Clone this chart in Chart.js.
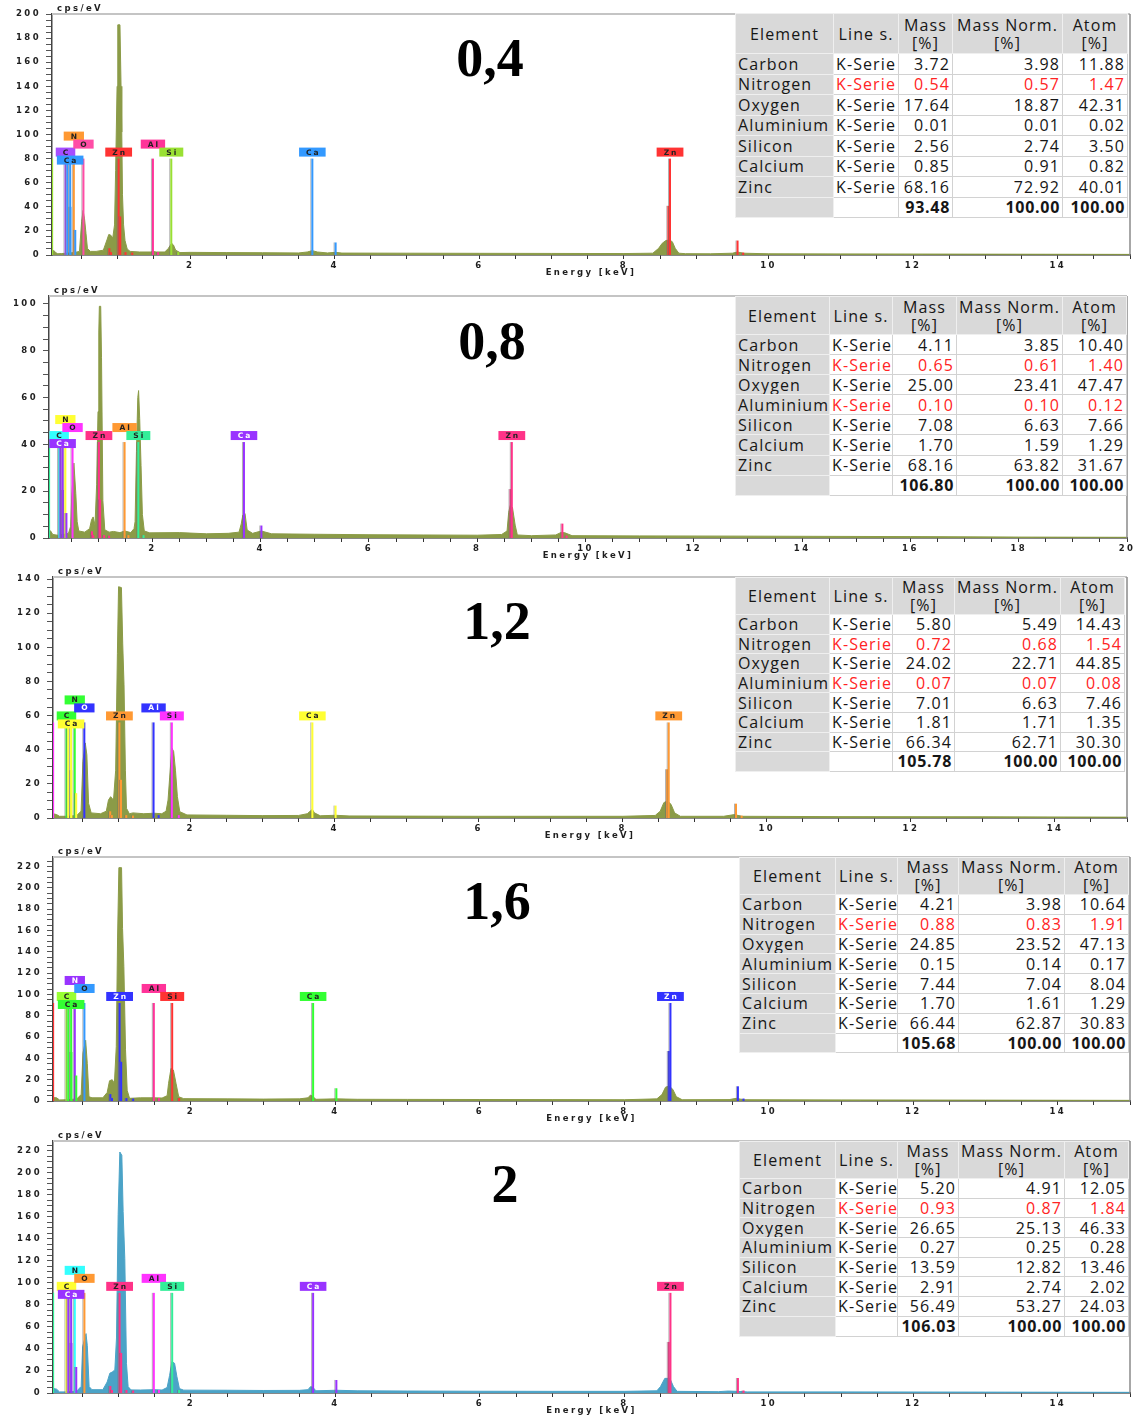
<!DOCTYPE html>
<html>
<head>
<meta charset="utf-8">
<title>EDS spectra</title>
<script src="https://cdn.jsdelivr.net/npm/chart.js@4.4.1/dist/chart.umd.min.js"></script>
<style>
  html, body { margin: 0; padding: 0; background: #fff; }
  #page { position: relative; width: 1136px; height: 1418px; overflow: hidden; background: #fff; }
  canvas.spec { position: absolute; left: 0; }
  .sample {
    position: absolute; font-family: 'Liberation Serif', 'Times New Roman', serif;
    font-weight: bold; font-size: 54px; line-height: 54px; color: #000;
    transform: translateX(-50%); white-space: nowrap;
  }
  table.quant {
    position: absolute; border-collapse: collapse; table-layout: fixed;
    font-family: 'Open Sans', sans-serif; font-size: 16px; letter-spacing: 1.1px;
    color: #161616; background: #fff;
  }
  table.quant th, table.quant td {
    border: 1px solid #d2d2d2; padding: 0 2px; white-space: nowrap; overflow: hidden;
    font-weight: normal; line-height: 16px;
  }
  table.quant th { background: #d9d9d9; text-align: center; line-height: 18px; border-color: #efefef; }
  table.quant td.el { background: #d9d9d9; text-align: left; border-color: #efefef; }
  table.quant td.ln { text-align: left; }
  table.quant td.num { text-align: right; }
  table.quant tr.total td { font-weight: bold; letter-spacing: 0.7px; }
  table.quant .red { color: #ff2424; }
</style>
</head>
<body>
<div id="page"></div>
<script>
// ---------------------------------------------------------------
// Sample labels (one spectrum + quantification table per sample)
// ---------------------------------------------------------------
const sampleLabels = ['0,4', '0,8', '1,2', '1,6', '2'];

// Spectra: [energy keV, intensity cps/eV]
const spectrum04 = [
  [0.09,3.5],[0.12,3.5],[0.14,2],[0.17,1],[0.22,1.2],[0.30,1.5],[0.40,2],[0.47,3],[0.50,28],[0.52,37],
  [0.54,30],[0.56,18],[0.58,5.5],[0.62,3],[0.70,3],[0.80,4],[0.85,12.5],[0.875,17],[0.90,16.6],[0.93,14],
  [0.955,25],[0.97,70],[0.99,140],[1.00,191],[1.03,191],[1.045,140],[1.055,102],[1.065,50],[1.08,25],[1.10,12],
  [1.13,5],[1.17,3],[1.30,2.5],[1.45,2.5],[1.49,3],[1.53,2.5],[1.65,2.5],[1.70,5.5],[1.72,7.5],[1.745,9.7],
  [1.77,8.3],[1.80,4],[1.86,2],[2.0,2.2],[2.5,2],[3.0,1.9],[3.5,1.7],[3.62,2.5],[3.69,3.6],[3.76,2.5],
  [3.9,1.7],[4.01,2.2],[4.1,1.6],[5,1.5],[6,1.4],[7,1.3],[8,1.2],[8.4,1.5],[8.48,5.5],[8.53,9.7],
  [8.58,12],[8.63,12.5],[8.67,11],[8.71,5.5],[8.76,1.5],[8.85,1.1],[9.2,1.0],[9.5,1.5],[9.57,2.5],[9.65,1.5],
  [10,1.0],[11,0.9],[12,0.8],[13,0.7],[14,0.6],[15,0.5]
];
const spectrum08 = [
  [0.09,3.5],[0.12,3],[0.16,1.5],[0.25,1.2],[0.35,1.5],[0.45,2],[0.49,5],[0.51,18],[0.55,32],[0.585,19],
  [0.61,7],[0.64,3],[0.75,2.5],[0.84,4],[0.875,7.7],[0.905,9],[0.94,5.5],[0.97,23],[0.995,54],[1.01,88],
  [1.02,99],[1.045,99],[1.06,77],[1.085,16],[1.12,3.5],[1.2,2.5],[1.28,2.8],[1.4,2.3],[1.49,3],[1.6,2.3],
  [1.66,4],[1.68,7],[1.705,37],[1.73,60],[1.745,63],[1.765,51],[1.79,31],[1.815,10],[1.85,3],[1.95,2.2],
  [2.5,2.3],[3.0,1.8],[3.4,2],[3.6,2.5],[3.64,6],[3.67,9.8],[3.71,10.5],[3.75,3.4],[3.85,2],[4.01,3],
  [4.2,1.8],[5,1.6],[6,1.4],[7,1.3],[8,1.2],[8.45,1.5],[8.55,3],[8.58,11],[8.61,14],[8.65,13],
  [8.7,5.5],[8.74,1.3],[9,1],[9.45,1.3],[9.55,2.4],[9.62,2.2],[9.75,1],[11,0.9],[13,0.8],[16,0.6],
  [18,0.4],[20,0.3]
];
const spectrum12 = [
  [0.09,2.5],[0.14,2],[0.18,1],[0.3,1],[0.42,1.5],[0.48,4],[0.505,33],[0.538,44],[0.56,37],[0.584,8.6],
  [0.62,3],[0.75,2.5],[0.83,4],[0.86,10.5],[0.89,12.5],[0.93,10.5],[0.96,28],[0.984,96.5],[1.0,135.5],[1.04,135],
  [1.058,102],[1.076,78],[1.095,28],[1.11,5.7],[1.15,2.5],[1.2,3],[1.35,2.5],[1.49,2.8],[1.6,2.5],[1.66,4],
  [1.687,10.5],[1.71,24],[1.74,41],[1.765,39],[1.79,28],[1.817,12.5],[1.85,3.7],[1.95,1.8],[2.5,1.6],[3,1.4],
  [3.5,1.5],[3.62,2.5],[3.66,4],[3.69,5],[3.72,3],[3.8,1.3],[4.01,1.6],[4.2,1.2],[5,1.1],[6,1],
  [7,1],[8,1],[8.45,1.5],[8.52,4],[8.57,9],[8.62,10],[8.67,8],[8.72,3],[8.8,1],[9.4,1],
  [9.55,2],[9.65,1],[11,0.8],[13,0.7],[15,0.5]
];
const spectrum16 = [
  [0.09,3.2],[0.14,3],[0.18,1],[0.3,1.2],[0.42,2],[0.48,6],[0.505,45],[0.542,57],[0.565,35],[0.588,4],
  [0.63,3],[0.78,3],[0.84,8],[0.873,19],[0.91,20],[0.94,16.6],[0.966,51],[0.984,153],[1.002,219],[1.039,219],
  [1.053,162],[1.071,126],[1.094,48],[1.117,10],[1.15,2.5],[1.3,3],[1.49,3],[1.6,2.8],[1.67,5],[1.69,16.6],
  [1.724,30.7],[1.757,29],[1.793,16.6],[1.83,4],[1.9,2.2],[2.5,2],[3,1.8],[3.5,2],[3.62,3],[3.655,5.6],
  [3.69,4],[3.73,1.6],[4.01,2],[4.3,1.6],[5,1.5],[6,1.4],[7,1.3],[8,1.2],[8.45,2],[8.52,6],
  [8.57,13],[8.62,14],[8.67,11],[8.72,4],[8.8,1.2],[9.45,1.3],[9.55,2.5],[9.65,1.2],[11,1],[13,0.8],
  [15,0.6]
];
const spectrum20 = [
  [0.09,4.2],[0.14,3.5],[0.18,1],[0.3,1],[0.42,1.8],[0.48,6],[0.5,42],[0.547,54],[0.565,43],[0.59,5.8],
  [0.63,3],[0.78,3],[0.84,10],[0.877,18],[0.909,19],[0.946,21],[0.969,50],[0.992,162],[1.015,219],[1.043,216],
  [1.061,165],[1.084,122],[1.107,27],[1.13,5.8],[1.17,2.8],[1.3,2.7],[1.49,3],[1.6,2.7],[1.67,5],[1.704,16],
  [1.736,28.5],[1.773,27],[1.805,15],[1.84,4],[1.9,2.6],[2.5,2.5],[3,2.3],[3.5,2.4],[3.62,3],[3.656,5.8],
  [3.69,5],[3.73,2],[4.01,2.5],[4.3,2],[5,1.8],[6,1.6],[7,1.5],[8,1.5],[8.45,2],[8.5,5.8],
  [8.56,13.3],[8.63,13.3],[8.68,5.8],[8.73,1.5],[9.3,1.2],[9.44,1.8],[9.55,1.5],[9.7,1],[11,1],[13,0.8],
  [15,0.6]
];
const spectra = [spectrum04, spectrum08, spectrum12, spectrum16, spectrum20];

// Characteristic lines: [element, energy keV, relative intensity]
const emissionLines = [
  ['Si',0.092,1],['C',0.277,1],['Ca',0.302,1],['Ca',0.341,1],['Ca',0.345,0.5],['N',0.392,1],['Ca',0.412,0.26],
  ['O',0.525,1],['Zn',0.884,0.07],['Zn',0.907,0.03],['Zn',1.012,1],['Zn',1.034,0.4],['Zn',1.107,0.03],
  ['Zn',1.2,0.025],['Al',1.486,1],['Al',1.557,0.03],['Si',1.740,1],['Si',1.836,0.03],['Ca',3.691,1],
  ['Ca',4.013,0.13],['Zn',8.615,0.51],['Zn',8.638,1],['Zn',9.572,0.15],['Zn',9.65,0.025]
];
// Tagged lines: [element, energy keV]
const lineLabels = [['C',0.277],['Ca',0.341],['N',0.392],['O',0.525],['Zn',1.012],['Al',1.486],['Si',1.740],['Ca',3.691],['Zn',8.638]];
// Full marker height per spectrum (cps/eV)
const markerTop = [80, 41, 56, 92, 91];

// Quantification tables
const elementNames = ['Carbon','Nitrogen','Oxygen','Aluminium','Silicon','Calcium','Zinc'];
const lineSeries = 'K-Serie';
const mass04 = [3.72, 0.54, 17.64, 0.01, 2.56, 0.85, 68.16];
const norm04 = [3.98, 0.57, 18.87, 0.01, 2.74, 0.91, 72.92];
const atom04 = [11.88, 1.47, 42.31, 0.02, 3.50, 0.82, 40.01];
const total04 = [93.48, 100.00, 100.00];
const mass08 = [4.11, 0.65, 25.00, 0.10, 7.08, 1.70, 68.16];
const norm08 = [3.85, 0.61, 23.41, 0.10, 6.63, 1.59, 63.82];
const atom08 = [10.40, 1.40, 47.47, 0.12, 7.66, 1.29, 31.67];
const total08 = [106.80, 100.00, 100.00];
const mass12 = [5.80, 0.72, 24.02, 0.07, 7.01, 1.81, 66.34];
const norm12 = [5.49, 0.68, 22.71, 0.07, 6.63, 1.71, 62.71];
const atom12 = [14.43, 1.54, 44.85, 0.08, 7.46, 1.35, 30.30];
const total12 = [105.78, 100.00, 100.00];
const mass16 = [4.21, 0.88, 24.85, 0.15, 7.44, 1.70, 66.44];
const norm16 = [3.98, 0.83, 23.52, 0.14, 7.04, 1.61, 62.87];
const atom16 = [10.64, 1.91, 47.13, 0.17, 8.04, 1.29, 30.83];
const total16 = [105.68, 100.00, 100.00];
const mass20 = [5.20, 0.93, 26.65, 0.27, 13.59, 2.91, 56.49];
const norm20 = [4.91, 0.87, 25.13, 0.25, 12.82, 2.74, 53.27];
const atom20 = [12.05, 1.84, 46.33, 0.28, 13.46, 2.02, 24.03];
const total20 = [106.03, 100.00, 100.00];
// Rows with uncertain fits (shown in red)
const flagged = [['Nitrogen'], ['Nitrogen','Aluminium'], ['Nitrogen','Aluminium'], ['Nitrogen'], ['Nitrogen']];

// ---------------------------------------------------------------
// Styling and layout
// ---------------------------------------------------------------
const palettes = [
  {C:'#a64dff', N:'#ff9933', O:'#ff4da6', Al:'#ff3399', Si:'#99e033', Ca:'#3399ff', Zn:'#ff3333'},
  {C:'#33ffff', N:'#ffff33', O:'#ff33ff', Al:'#ff9933', Si:'#33ee99', Ca:'#9933ff', Zn:'#ff3388'},
  {C:'#33ff33', N:'#33ff33', O:'#3333ff', Al:'#3333ff', Si:'#ff33ff', Ca:'#ffff33', Zn:'#ff9933'},
  {C:'#99ff33', N:'#9933ff', O:'#3399ff', Al:'#ff3399', Si:'#ff3333', Ca:'#33ff33', Zn:'#3333ff'},
  {C:'#ffff33', N:'#33ffff', O:'#ff9933', Al:'#ff33ff', Si:'#33ee99', Ca:'#9933ff', Zn:'#ff3388'}
];
const spectrumColors = ['#8b9b47', '#8b9b47', '#8b9b47', '#8b9b47', '#4ba3c7'];
const labelTiers = [1, 0, 3, 2, 1, 2, 1, 1, 1];

const frames = [
  {top: 14,   bottom: 255,  left: 52, right: 1130, yMax: 200,   xMax: 15},
  {top: 296,  bottom: 538,  left: 49, right: 1127, yMax: 103.4, xMax: 20},
  {top: 577,  bottom: 818,  left: 53, right: 1127, yMax: 141.2, xMax: 15},
  {top: 857,  bottom: 1101, left: 53, right: 1130, yMax: 229,   xMax: 15},
  {top: 1141, bottom: 1393, left: 53, right: 1130, yMax: 229,   xMax: 15}
];
const PAD_TOP = 14, AXIS_H = 28, PAGE_W = 1136, X_MIN = 0.09;

const tableFrames = [
  {left: 735, top: 13,   cols: [98, 65, 54, 110, 65], head: 40, row: 20.5},
  {left: 735, top: 296,  cols: [94, 63, 64, 106, 64], head: 38, row: 20.1},
  {left: 735, top: 577,  cols: [94, 63, 62, 106, 64], head: 37, row: 19.6},
  {left: 739, top: 857,  cols: [96, 62, 61, 106, 64], head: 37, row: 19.8},
  {left: 739, top: 1141, cols: [96, 62, 61, 106, 64], head: 37, row: 19.7}
];
const sampleLabelPos = [
  {cx: 490, baseline: 76}, {cx: 492, baseline: 359}, {cx: 497, baseline: 639},
  {cx: 497, baseline: 919}, {cx: 505, baseline: 1202}
];

const AXIS_FONT = {family: 'DejaVu Sans', weight: 'bold', size: 8.5};
const AXIS_TEXT = '#1e1e1e';
const AXIS_SPACING = '2.4px';

function textOn(hex) {
  const r = parseInt(hex.slice(1, 3), 16), g = parseInt(hex.slice(3, 5), 16), b = parseInt(hex.slice(5, 7), 16);
  return (0.299 * r + 0.587 * g + 0.114 * b) < 110 ? '#ffffff' : '#222222';
}

// Element lines, tag boxes, frame and axis captions
const spectrumDecor = {
  id: 'spectrumDecor',
  beforeDraw(chart) {
    chart.ctx.letterSpacing = AXIS_SPACING;
  },
  afterDatasetsDraw(chart) {
    const k = chart.options.plugins.spectrumDecor.panel;
    const pal = palettes[k];
    const {ctx, chartArea: a, scales: {x, y}} = chart;
    const y0 = y.getPixelForValue(0);
    ctx.save();
    ctx.beginPath();
    ctx.rect(a.left, a.top - 40, a.right - a.left, a.bottom - a.top + 40);
    ctx.clip();
    emissionLines.forEach(([el, e, rel]) => {
      if (e < x.min || e > x.max) return;
      const px = x.getPixelForValue(e);
      const py = y.getPixelForValue(markerTop[k] * rel);
      ctx.lineWidth = 1;
      ctx.strokeStyle = 'rgba(110,110,110,0.55)';
      ctx.beginPath(); ctx.moveTo(px - 1.5, y0); ctx.lineTo(px - 1.5, py); ctx.stroke();
      ctx.lineWidth = 2;
      ctx.strokeStyle = pal[el];
      ctx.beginPath(); ctx.moveTo(px, y0); ctx.lineTo(px, py); ctx.stroke();
    });
    ctx.font = 'bold 7.5px "DejaVu Sans"';
    ctx.letterSpacing = '2px';
    ctx.textAlign = 'center';
    ctx.textBaseline = 'middle';
    lineLabels.forEach(([el, e], i) => {
      const cx = x.getPixelForValue(e);
      const cy = y.getPixelForValue(markerTop[k]) + 1.5 - labelTiers[i] * 8;
      const w = ctx.measureText(el).width + 12, h = 9;
      ctx.fillStyle = pal[el];
      ctx.fillRect(cx - w / 2, cy - h / 2, w, h);
      ctx.fillStyle = textOn(pal[el]);
      ctx.fillText(el, cx + 1, cy + 0.5);
    });
    ctx.restore();
  },
  afterDraw(chart) {
    const {ctx, chartArea: a} = chart;
    ctx.save();
    ctx.strokeStyle = '#c4c4c4';
    ctx.lineWidth = 2;
    ctx.beginPath(); ctx.moveTo(a.left, a.top); ctx.lineTo(a.right, a.top); ctx.stroke();
    ctx.strokeStyle = '#8a8a8a';
    ctx.lineWidth = 1.5;
    ctx.beginPath(); ctx.moveTo(a.right, a.top); ctx.lineTo(a.right, a.bottom); ctx.stroke();
    ctx.font = 'bold 8.5px "DejaVu Sans"';
    ctx.letterSpacing = AXIS_SPACING;
    ctx.fillStyle = AXIS_TEXT;
    ctx.textBaseline = 'middle';
    ctx.textAlign = 'left';
    ctx.fillText('cps/eV', a.left + 5, a.top - 5);
    ctx.textAlign = 'center';
    ctx.fillText('Energy [keV]', (a.left + a.right) / 2, a.bottom + 17.5);
    ctx.restore();
  }
};

const page = document.getElementById('page');

frames.forEach((f, k) => {
  const canvas = document.createElement('canvas');
  canvas.className = 'spec';
  const h = (f.bottom - f.top) + PAD_TOP + AXIS_H;
  canvas.width = PAGE_W;
  canvas.height = h;
  canvas.style.top = (f.top - PAD_TOP) + 'px';
  canvas.style.width = PAGE_W + 'px';
  canvas.style.height = h + 'px';
  page.appendChild(canvas);

  new Chart(canvas.getContext('2d'), {
    type: 'line',
    data: {
      datasets: [{
        data: spectra[k].map(([e, c]) => ({x: e, y: c})),
        borderColor: spectrumColors[k],
        backgroundColor: spectrumColors[k],
        borderWidth: 1,
        fill: 'origin',
        pointRadius: 0,
        tension: 0
      }]
    },
    options: {
      responsive: false,
      animation: false,
      devicePixelRatio: 1,
      layout: {autoPadding: false, padding: {top: PAD_TOP, right: PAGE_W - f.right, bottom: 0, left: 0}},
      plugins: {
        legend: {display: false},
        tooltip: {enabled: false},
        spectrumDecor: {panel: k}
      },
      scales: {
        x: {
          type: 'linear',
          min: X_MIN,
          max: f.xMax,
          afterFit: s => { s.height = AXIS_H; },
          border: {display: true, color: '#111', width: 1.5},
          grid: {drawOnChartArea: false, drawTicks: true, tickLength: 4, tickColor: '#333', tickWidth: 1},
          ticks: {
            stepSize: 0.5,
            includeBounds: false,
            autoSkip: false,
            maxRotation: 0,
            padding: 2,
            font: AXIS_FONT,
            color: AXIS_TEXT,
            callback: v => {
              const r = Math.round(v);
              return (Math.abs(v - r) < 1e-6 && r % 2 === 0) ? String(r) : '';
            }
          }
        },
        y: {
          type: 'linear',
          min: 0,
          max: f.yMax,
          afterFit: s => { s.width = f.left; },
          border: {display: true, color: '#444', width: 1.5},
          grid: {drawOnChartArea: false, drawTicks: true, tickLength: 6, tickColor: '#555', tickWidth: 1},
          ticks: {
            stepSize: 5,
            includeBounds: false,
            autoSkip: false,
            padding: 5,
            font: AXIS_FONT,
            color: AXIS_TEXT,
            callback: v => (Math.abs(v % 20) < 1e-6 ? String(Math.round(v)) : '')
          }
        }
      }
    },
    plugins: [spectrumDecor]
  });
});

// Sample captions
sampleLabels.forEach((txt, k) => {
  const d = document.createElement('div');
  d.className = 'sample';
  d.textContent = txt;
  d.style.left = sampleLabelPos[k].cx + 'px';
  d.style.top = (sampleLabelPos[k].baseline - 45) + 'px';
  page.appendChild(d);
});

// Quantification tables
const tableData = [
  [mass04, norm04, atom04, total04],
  [mass08, norm08, atom08, total08],
  [mass12, norm12, atom12, total12],
  [mass16, norm16, atom16, total16],
  [mass20, norm20, atom20, total20]
];

function addCell(row, text, cls) {
  const td = row.insertCell();
  td.className = cls;
  td.textContent = text;
  return td;
}

tableFrames.forEach((g, k) => {
  const [mass, norm, atom, total] = tableData[k];
  const red = flagged[k];
  const t = document.createElement('table');
  t.className = 'quant';
  t.style.left = g.left + 'px';
  t.style.top = g.top + 'px';
  t.style.width = g.cols.reduce((a, b) => a + b, 0) + 'px';
  const cg = document.createElement('colgroup');
  g.cols.forEach(w => { const c = document.createElement('col'); c.style.width = w + 'px'; cg.appendChild(c); });
  t.appendChild(cg);
  const body = document.createElement('tbody');
  t.appendChild(body);
  const hr = body.insertRow();
  hr.style.height = g.head + 'px';
  ['Element', 'Line s.', 'Mass<br>[%]', 'Mass Norm.<br>[%]', 'Atom<br>[%]'].forEach(hd => {
    const th = document.createElement('th');
    th.innerHTML = hd;
    hr.appendChild(th);
  });
  elementNames.forEach((name, i) => {
    const r = body.insertRow();
    r.style.height = g.row + 'px';
    const rc = red.includes(name) ? ' red' : '';
    addCell(r, name, 'el');
    addCell(r, lineSeries, 'ln' + rc);
    addCell(r, mass[i].toFixed(2), 'num' + rc);
    addCell(r, norm[i].toFixed(2), 'num' + rc);
    addCell(r, atom[i].toFixed(2), 'num' + rc);
  });
  const tr = body.insertRow();
  tr.className = 'total';
  tr.style.height = g.row + 'px';
  addCell(tr, '', 'el');
  addCell(tr, '', 'ln');
  total.forEach(v => addCell(tr, v.toFixed(2), 'num'));
  page.appendChild(t);
});
</script>
</body>
</html>
